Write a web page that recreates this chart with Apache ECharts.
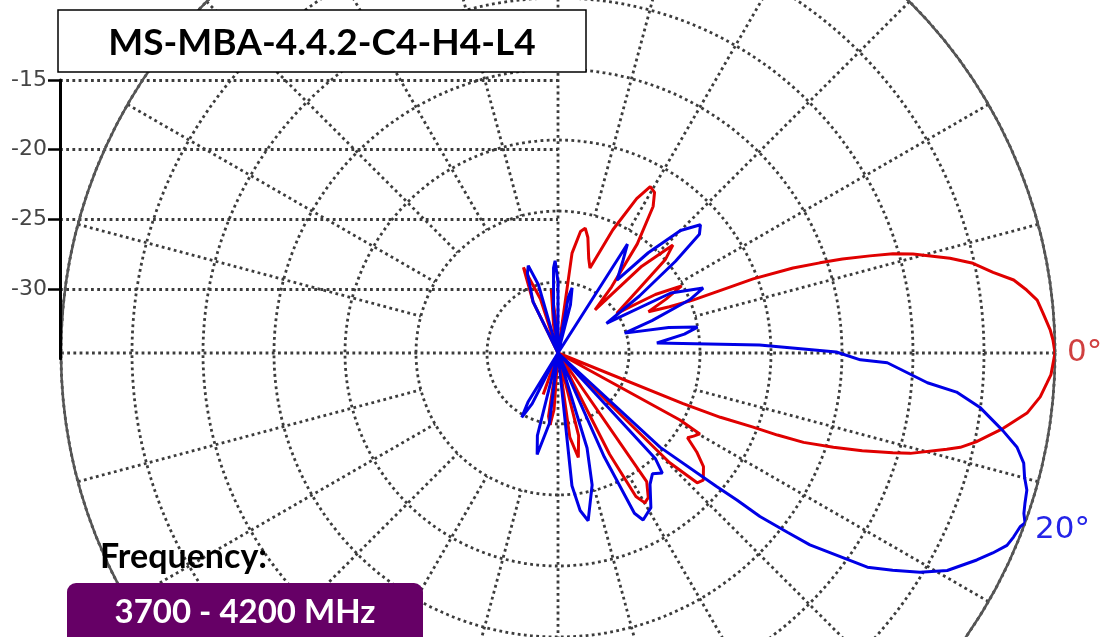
<!DOCTYPE html>
<html>
<head>
<meta charset="utf-8">
<script src="https://cdn.jsdelivr.net/npm/echarts@6/dist/echarts.min.js"></script>
<style>
html,body{margin:0;padding:0;background:#fff;}
#c{width:1104px;height:637px;}
</style>
</head>
<body>
<div id="c"></div>
<script>
// ---- data (angle in degrees, clockwise positive / downward; gain in dB) ----
const redAngles = [-180,-122,-116,-112,-108,-104,-99,-96,-93,-88,
  -84,-82,-79.5,-77.7,-75.5,-72,-69.4,-66,-63,-61,
  -59,-57,-54,-51,-49.3,-46,-43.2,-41,-38,-34,
  -31,-28.5,-26.5,-24.5,-22.5,-21.4,-21,-20.8,-19.9,-19,
  -18.3,-17.3,-16.5,-15.6,-13.6,-12.2,-10.5,-9.1,-7.65,-6.3,
  -4.7,-2.7,-1.5,0,2.5,3.5,5.2,7.3,9.6,12,
  13.2,13.9,15.9,16.6,17.8,18.9,20,20.5,20.8,21.6,
  22,23.5,27.5,28.8,29.7,31.5,33.2,35.5,38,41.2,
  43,44.5,46,53,55.4,58,59.9,61.5,63,65,
  71,76,79,82,86,91,94,96.3,98.5,101,
  105,109.7,113,180];
const redGain = [-35,-35,-31,-28.5,-31,-35,-33,-30.5,-33,-35,
  -35,-27.9,-26.3,-26.0,-26.6,-28,-28.6,-25.5,-22.8,-21.6,
  -21.8,-22.7,-25.5,-29,-31,-26.5,-23.9,-25,-28,-30,
  -27,-25.1,-26.5,-28,-26.5,-24.8,-22.25,-20.3,-17.4,-15.5,
  -13.9,-12.0,-10.4,-9.05,-6.6,-5.1,-3.84,-2.5,-1.7,-1.05,
  -0.73,-0.3,-0.13,0,-0.25,-0.5,-0.9,-1.7,-3.2,-4.9,
  -5.9,-6.8,-9.2,-10.4,-12.5,-14.5,-16.6,-18.5,-20.3,-22.7,
  -25.5,-35,-35,-25.2,-23.5,-23.8,-24.1,-23,-22,-21.4,
  -21.6,-24,-35,-35,-24,-23,-22.8,-23.5,-27,-35,
  -35,-29,-27.5,-29,-35,-35,-31,-29.9,-30.5,-35,
  -35,-31.9,-35,-35];

const blueAngles = [-180,-120,-116,-111,-108.8,-106,-101,-96,-93,-91.8,
  -90,-87,-82,-79.5,-77.8,-75.5,-72,-59,-57.5,-55,
  -51,-48,-45,-42,-40,-38,-35,-31.5,-28,-24.1,
  -22,-19,-16.6,-13,-10.5,-8.5,-5.8,-2.3,-0.2,1.3,
  1.7,4.6,5.6,7.4,9.9,11.6,13.3,14.9,16.3,17.8,
  19,20,20.6,22,23.2,24.7,26.3,29.2,31.2,33,
  34.7,35.7,37.3,38,39,39.4,40.1,42.7,44.5,46.5,
  47.3,49,52,55,59,63,64.5,66,68,70,
  73,75.5,79.8,82,84,87,93,97,101.6,104,
  107,113,117,119.4,121.5,124,180];
const blueGain = [-35,-35,-31,-29,-28.5,-30,-35,-32,-29,-28.5,
  -30,-35,-35,-31,-30.3,-31.5,-35,-35,-25.9,-27,
  -28.4,-25.5,-22.8,-21.5,-22,-24.5,-28,-31,-26,-23.8,
  -25,-28,-30.1,-27,-25,-26,-28,-20.8,-15.4,-13.7,
  -11.8,-8.9,-6.8,-5.0,-3.2,-2.0,-1.3,-1.0,-0.6,-0.46,
  -0.3,0,-0.23,-0.4,-0.6,-1.3,-2.1,-3.6,-5.2,-6.9,
  -8.5,-10.3,-12.7,-14.5,-16.7,-18.7,-20.4,-25.2,-35,-35,
  -24.9,-23.8,-24.2,-23.7,-22.3,-21.8,-22.5,-27,-35,-35,
  -28,-25.4,-23,-23.8,-25.6,-35,-35,-30,-27.7,-29,
  -35,-35,-31,-29.8,-31,-35,-35];

const radialTicks = [-30, -25, -20, -15];
const seriesNames = ['0°', '20°'];
const titleText = 'MS-MBA-4.4.2-C4-H4-L4';
const freqLabel = 'Frequency:';
const freqBand = '3700 - 4200 MHz';

// ---- chart ----
const RMIN = -35, RMAX = 0;
const CX = 558, CY = 353, R = 497;
const gridColor = '#3c3c3c';
const gridW = 2.8;
const dot = [2.8, 3.4];

const chart = echarts.init(document.getElementById('c'), null, {renderer: 'canvas'});

function pairs(a, g) { return a.map((v, i) => [Math.max(RMIN, g[i]), v]); }

const option = {
  animation: false,
  backgroundColor: '#fff',
  polar: [
    {center: [CX, CY], radius: R},
    {center: [CX, CY], radius: [142, R]}
  ],
  radiusAxis: [
    {polarIndex: 0, type: 'value', min: RMIN, max: RMAX, interval: 5,
      axisLine: {show: false}, axisTick: {show: false}, axisLabel: {show: false},
      splitLine: {show: true, lineStyle: {color: gridColor, width: gridW, type: dot}}},
    {polarIndex: 1, type: 'value', min: 0, max: 1,
      axisLine: {show: false}, axisTick: {show: false}, axisLabel: {show: false},
      splitLine: {show: false}}
  ],
  angleAxis: [
    {polarIndex: 0, type: 'value', min: -180, max: 180, interval: 90, startAngle: 180, clockwise: true,
      axisLine: {show: true, lineStyle: {color: '#555', width: 2.5}},
      axisTick: {show: false}, axisLabel: {show: false},
      splitLine: {show: true, lineStyle: {color: gridColor, width: gridW, type: dot}}},
    {polarIndex: 1, type: 'value', min: -180, max: 180, interval: 15, startAngle: 180, clockwise: true,
      axisLine: {show: false}, axisTick: {show: false}, axisLabel: {show: false},
      splitLine: {show: true, lineStyle: {color: ['rgba(0,0,0,0)', gridColor, gridColor, gridColor, gridColor, gridColor], width: gridW, type: dot}}}
  ],
  grid: {left: 60, top: 80, width: CX - 60, height: 278.7, containLabel: false},
  xAxis: {type: 'value', min: 0, max: 1, show: false},
  yAxis: {
    type: 'value', min: RMIN, max: -15, interval: 5,
    axisLine: {show: true, lineStyle: {color: '#000', width: 3}},
    axisTick: {show: true, length: 12, customValues: radialTicks, lineStyle: {color: '#000', width: 2.5}},
    axisLabel: {show: true, customValues: radialTicks, color: '#444', fontSize: 22, margin: 13,
      fontFamily: '"DejaVu Sans", sans-serif'},
    splitLine: {show: true, lineStyle: {color: gridColor, width: gridW, type: dot}}
  },
  series: [
    {name: seriesNames[0], type: 'line', coordinateSystem: 'polar', polarIndex: 0,
      data: pairs(redAngles, redGain), symbol: 'none', smooth: false, z: 5,
      lineStyle: {color: '#e00000', width: 3}},
    {name: seriesNames[1], type: 'line', coordinateSystem: 'polar', polarIndex: 0,
      data: pairs(blueAngles, blueGain), symbol: 'none', smooth: false, z: 6,
      lineStyle: {color: '#0000e6', width: 3}}
  ],
  graphic: [
    {type: 'rect', z: 100, shape: {x: 58, y: 10, width: 528, height: 62},
      style: {fill: '#fff', stroke: '#000', lineWidth: 1.5}},
    {type: 'text', z: 101, x: 322, y: 43,
      style: {text: titleText, fill: '#000', font: 'bold 37px Lato, "Open Sans", sans-serif', align: 'center', verticalAlign: 'middle'}},
    {type: 'text', z: 101, x: 100, y: 557,
      style: {text: freqLabel, fill: '#000', font: 'bold 34px Lato, "Open Sans", sans-serif', align: 'left', verticalAlign: 'middle'}},
    {type: 'rect', z: 100, shape: {x: 67, y: 583, width: 356, height: 80, r: 9},
      style: {fill: '#660066'}},
    {type: 'text', z: 101, x: 245, y: 612,
      style: {text: freqBand, fill: '#fff', font: 'bold 33px Lato, "Open Sans", sans-serif', align: 'center', verticalAlign: 'middle'}},
    {type: 'text', z: 101, x: 1067, y: 353,
      style: {text: seriesNames[0], fill: '#d04040', font: '31px "DejaVu Sans", sans-serif', align: 'left', verticalAlign: 'middle'}},
    {type: 'text', z: 101, x: 1035, y: 530,
      style: {text: seriesNames[1], fill: '#2424e8', font: '31px "DejaVu Sans", sans-serif', align: 'left', verticalAlign: 'middle'}}
  ]
};
chart.setOption(option);
</script>
</body>
</html>
